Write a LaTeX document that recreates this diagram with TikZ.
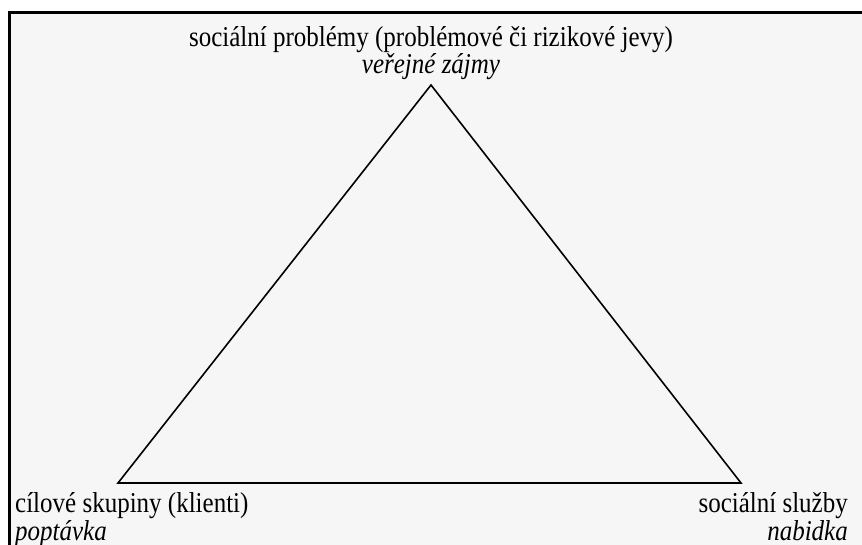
\documentclass[tikz,border=0pt]{standalone}
\usepackage{fontspec}
\setmainfont{Liberation Serif}
\begin{document}
\begin{tikzpicture}[x=1pt,y=-1pt,
  lbl/.style={inner sep=0pt,font=\fontsize{25}{27}\selectfont,transform shape,yscale=1.15},
  ilbl/.style={lbl,font=\fontsize{25}{27}\selectfont\itshape},
  edge/.style={line width=1.6pt,line join=miter}]
\useasboundingbox (0,0) rectangle (862,545);
\fill[white] (0,0) rectangle (862,545);
\fill[gray!7] (9,13) rectangle (862,545);
\draw[line width=3pt] (9,545) -- (9,13) -- (862,13);
\coordinate (apex) at (431,85);
\coordinate (bl) at (118,483);
\coordinate (br) at (741,483);
\draw[edge] (apex) -- (br) -- (bl) -- cycle;
\node[lbl,anchor=base] (prob) at (431,47) {sociální problémy (problémové či rizikové jevy)};
\node[ilbl,anchor=base] (zajmy) at (431,74) {veřejné zájmy};
\node[lbl,anchor=base west] (klienti) at (15,512) {cílové skupiny (klienti)};
\node[ilbl,anchor=base west] (popt) at (15,540) {poptávka};
\node[lbl,anchor=base east] (sluzby) at (848,512) {sociální služby};
\node[ilbl,anchor=base east] (nab) at (848,540) {nabidka};
\end{tikzpicture}
\end{document}
